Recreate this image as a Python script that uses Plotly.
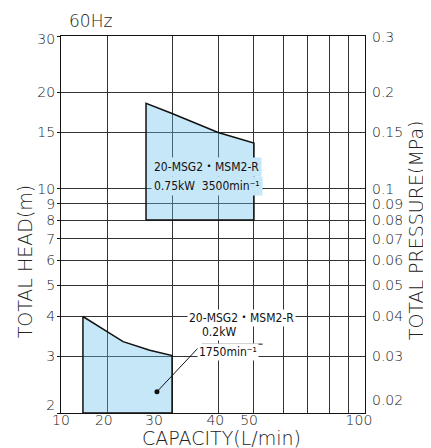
import math
import plotly.graph_objects as go

# ---- data ----
x_grid = [20, 30, 40, 50, 60, 70, 80, 90]
x_label_pos = [15, 19.6, 26.8, 39.3, 48.5, 96.3]
x_label_text = ["10", "20", "30", "40", "50", "100"]

head_grid = [2, 3, 4, 5, 6, 7, 8, 9, 10, 15, 20, 30]
head_label_pos = [2.12, 3, 4, 5, 6, 7, 8, 9, 10, 15, 20, 29.4]
head_label_text = ["2", "3", "4", "5", "6", "7", "8", "9", "10", "15", "20", "30"]

pressure_label_pos = [0.0219, 0.03, 0.04, 0.05, 0.06, 0.07, 0.08, 0.09, 0.1, 0.15, 0.2, 0.297]
pressure_label_text = ["0.02", "0.03", "0.04", "0.05", "0.06", "0.07", "0.08", "0.09", "0.1", "0.15", "0.2", "0.3"]

hi_flow = [25.5, 30, 40, 50]
hi_head = [18.5, 17.2, 15.0, 13.9]
hi_min_head = 8

lo_flow = [17.2, 20, 22.1, 26.1, 30]
lo_head = [4.0, 3.59, 3.34, 3.14, 3.02]
lo_min_head = 2

leader_x = [27.3, 36.1, 52.8]
leader_y = [2.33, 3.28, 3.28]

FONT = "DejaVu Sans"
NARROW = "DejaVu Sans Condensed, Liberation Sans Narrow, Noto Sans CJK JP, sans-serif"
FILL = "rgba(100,190,235,0.37)"
FILL_SOLID = "rgb(198,231,248)"
GRID = "#333333"

fig = go.Figure()

def region(flow, head, base):
    xs = [flow[0]] + flow + [flow[-1], flow[0]]
    ys = [base] + head + [base, base]
    return go.Scatter(x=xs, y=ys, mode="lines", fill="toself", fillcolor=FILL,
                      line=dict(color="#111", width=1.5), hoverinfo="skip",
                      showlegend=False)

fig.add_trace(region(hi_flow, hi_head, hi_min_head))
fig.add_trace(region(lo_flow, lo_head, lo_min_head))

fig.add_trace(go.Scatter(x=leader_x, y=leader_y, mode="lines",
                         line=dict(color="#111", width=1), showlegend=False,
                         hoverinfo="skip"))
fig.add_trace(go.Scatter(x=leader_x[:1], y=leader_y[:1], mode="markers",
                         marker=dict(color="#111", size=5), showlegend=False,
                         hoverinfo="skip"))
# dummy trace for the right axis
fig.add_trace(go.Scatter(x=[hi_flow[0]], y=[pressure_label_pos[1]], yaxis="y2",
                         mode="markers", marker=dict(opacity=0),
                         showlegend=False, hoverinfo="skip"))

tickfont = dict(family=FONT, size=14, color="#222", weight=200)

# page body has an 8px margin, so the figure is drawn 8px in from the corner
fig.update_layout(
    template="none",
    width=423, height=440,
    margin=dict(l=53, r=66, t=28, b=35, autoexpand=False),
    paper_bgcolor="white", plot_bgcolor="white",
    font=dict(family=FONT, color="#222"),
    showlegend=False,
    xaxis=dict(type="log", range=[math.log10(15), 2], automargin=False,
               tickmode="array", tickvals=x_label_pos, ticktext=x_label_text,
               showgrid=False, ticks="", tickfont=tickfont,
               ticklabelstandoff=-6,
               minor=dict(tickmode="array", tickvals=x_grid, showgrid=True,
                          gridcolor=GRID, gridwidth=1, ticks=""),
               showline=True, linecolor="#111", linewidth=1, mirror=True,
               zeroline=False),
    yaxis=dict(type="log", range=[math.log10(2), math.log10(30)], automargin=False,
               tickmode="array", tickvals=head_label_pos, ticktext=head_label_text,
               showgrid=False, ticks="", tickfont=tickfont, ticklabelstandoff=2,
               minor=dict(tickmode="array", tickvals=head_grid, showgrid=True,
                          gridcolor=GRID, gridwidth=1, ticks="outside",
                          ticklen=3, tickcolor="#111"),
               showline=True, linecolor="#111", linewidth=1, mirror=True,
               zeroline=False),
    yaxis2=dict(type="log", range=[math.log10(0.02), math.log10(0.3)], automargin=False,
                overlaying="y", side="right", anchor="x",
                tickmode="array", tickvals=pressure_label_pos, ticktext=pressure_label_text,
                showgrid=False, ticks="", tickfont=tickfont,
                ticklabelstandoff=6, showline=False, zeroline=False),
)

ann = []
ann.append(dict(text="60Hz", xref="paper", yref="paper", x=0.02, y=1.0385,
                xanchor="left", yanchor="middle", showarrow=False,
                font=dict(family=FONT, size=17, color="#222", weight=200)))
ann.append(dict(text="TOTAL HEAD(m)", xref="paper", yref="paper", x=-0.12, y=0.401,
                xanchor="center", yanchor="middle", textangle=-90, showarrow=False,
                font=dict(family=FONT, size=19, color="#222", weight=200)))
ann.append(dict(text="TOTAL PRESSURE(MPa)", xref="paper", yref="paper", x=1.168, y=0.485,
                xanchor="center", yanchor="middle", textangle=-90, showarrow=False,
                font=dict(family=FONT, size=19, color="#222", weight=200)))
ann.append(dict(text="CAPACITY(L/min)", xref="paper", yref="paper", x=0.528, y=-0.066,
                xanchor="center", yanchor="middle", showarrow=False,
                font=dict(family=FONT, size=19, color="#222", weight=200)))

# model labels
lab = dict(family=NARROW, size=12, color="#111")
ann.append(dict(text="20-MSG2・MSM2-R", x=math.log10(26.3), y=math.log10(11.7),
                xref="x", yref="y", xanchor="left", yanchor="middle",
                showarrow=False, bgcolor=FILL_SOLID, borderpad=2, font=lab))
ann.append(dict(text="0.75kW  3500min⁻¹", x=math.log10(26.3), y=math.log10(10.2),
                xref="x", yref="y", xanchor="left", yanchor="middle",
                showarrow=False, bgcolor=FILL_SOLID, borderpad=2, font=lab))
ann.append(dict(text="20-MSG2・MSM2-R", x=math.log10(64.9), y=math.log10(3.96),
                xref="x", yref="y", xanchor="right", yanchor="middle",
                showarrow=False, bgcolor="white", borderpad=1, font=lab))
ann.append(dict(text="0.2kW", x=math.log10(35.7), y=math.log10(3.57),
                xref="x", yref="y", xanchor="left", yanchor="middle",
                showarrow=False, bgcolor="white", borderpad=1, font=lab))
ann.append(dict(text="1750min⁻¹", x=math.log10(42.5), y=math.log10(3.10),
                xref="x", yref="y", xanchor="center", yanchor="middle",
                showarrow=False, bgcolor="white", borderpad=1, font=lab))
fig.update_layout(annotations=ann)

fig.write_html("out.html")
